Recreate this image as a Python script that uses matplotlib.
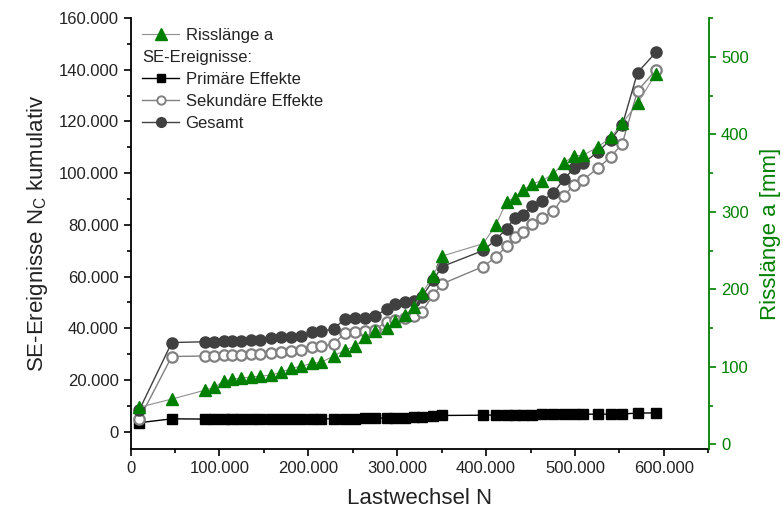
import numpy as np
import matplotlib
matplotlib.use('Agg')
import matplotlib.pyplot as plt
from matplotlib.ticker import FuncFormatter, MultipleLocator
from matplotlib.lines import Line2D
from matplotlib.transforms import IdentityTransform

plt.rcParams['font.family'] = ['Liberation Sans', 'DejaVu Sans']

# Lastwechsel N
lastwechsel = [10000, 46400, 83900, 94400, 105000, 114700, 124500, 135800, 145900, 158300,
               169200, 180800, 192100, 204200, 214600, 228500, 240900, 253000, 264200, 274700,
               288500, 298000, 309300, 318600, 328100, 340500, 350600, 396800, 410700, 423100,
               432100, 441900, 452100, 462900, 475700, 487700, 498900, 509100, 525600, 540300,
               553200, 570400, 591000]

# SE-Ereignisse kumulativ
primaer = [3500, 5000, 4900, 4900, 4900, 4900, 4900, 4900, 4900, 4900,
           4900, 5000, 5000, 5000, 5000, 5000, 5100, 5100, 5200, 5300,
           5300, 5400, 5500, 5600, 5700, 6200, 6300, 6400, 6500, 6600,
           6600, 6600, 6600, 6700, 6700, 6700, 6700, 6800, 6800, 6800,
           6900, 7200, 7300]
sekundaer = [5000, 29100, 29300, 29400, 29500, 29500, 29700, 29900, 30100, 30600,
             30900, 31400, 31700, 32600, 33000, 34000, 38100, 38600, 38900, 39500,
             42600, 43200, 44000, 44800, 46500, 52900, 57200, 63900, 67500, 71700,
             75500, 77100, 80500, 82700, 85200, 91300, 95400, 97400, 101900, 106300,
             111400, 131800, 139900]
gesamt = [8500, 34500, 34800, 34900, 35000, 35000, 35200, 35400, 35600, 36200,
          36600, 36800, 37000, 38400, 38900, 39700, 43600, 43800, 44100, 44600,
          47600, 49500, 50000, 50700, 52300, 58700, 63900, 70100, 74200, 78600,
          82600, 83900, 87300, 89300, 92300, 97700, 101900, 103800, 108200, 113000,
          118500, 138900, 146700]

# Risslänge a [mm]
risslaenge = [48, 58.5, 70, 73.5, 82, 84, 85.5, 87, 88, 89.5,
              93, 98, 101, 104.5, 106, 114, 121.5, 127, 138, 146,
              150, 159.5, 167, 177.5, 195.5, 217, 243, 259, 282.5, 313,
              318.5, 328, 336.5, 340, 349, 363.5, 372, 373, 383.5, 396,
              414, 440, 478]

green = '#008000'

fig = plt.figure(figsize=(7.83, 5.15), dpi=100)
ax = fig.add_axes([0.1667, 0.128, 0.739, 0.837])
ax2 = ax.twinx()

ax.plot(lastwechsel, primaer, color='black', lw=1.0, marker='s', ms=7.5,
        mfc='black', mec='black')
ax.plot(lastwechsel, sekundaer, color='#808080', lw=1.0, marker='o', ms=7.5,
        mfc='white', mec='#808080', mew=1.6)
ax.plot(lastwechsel, gesamt, color='#404040', lw=1.0, marker='o', ms=8,
        mfc='#404040', mec='#404040')
ax2.plot(lastwechsel, risslaenge, color='#909090', lw=0.8, marker='^', ms=9,
         mfc=green, mec=green)

thousands = FuncFormatter(lambda v, p: f"{int(round(v)):,}".replace(",", "."))

ax.set_xlim(0, 651000)
ax.set_ylim(-6700, 160000)
ax2.set_ylim(-6, 550)

ax.xaxis.set_major_locator(MultipleLocator(100000))
ax.xaxis.set_minor_locator(MultipleLocator(50000))
ax.xaxis.set_major_formatter(thousands)
ax.yaxis.set_major_locator(MultipleLocator(20000))
ax.yaxis.set_minor_locator(MultipleLocator(10000))
ax.yaxis.set_major_formatter(thousands)
ax2.yaxis.set_major_locator(MultipleLocator(100))
ax2.yaxis.set_minor_locator(MultipleLocator(50))

for a in (ax, ax2):
    a.spines['top'].set_visible(False)
ax.spines['right'].set_visible(False)
ax2.spines['left'].set_visible(False)
ax2.spines['bottom'].set_visible(False)
ax2.spines['right'].set_color(green)
for s in ('left', 'bottom'):
    ax.spines[s].set_linewidth(1.3)
ax2.spines['right'].set_linewidth(1.3)

ax.tick_params(which='major', direction='out', length=5, width=1.2, labelsize=12,
               colors='black', labelcolor='#222222')
ax.tick_params(which='minor', direction='out', length=3, width=1.2)
ax2.tick_params(which='major', direction='out', length=5, width=1.2, labelsize=12,
                colors=green)
ax2.tick_params(which='minor', direction='out', length=3, width=1.2, colors=green)

ax.set_xlabel('Lastwechsel N', fontsize=16, color='#222222', labelpad=9)
ax.set_ylabel('SE-Ereignisse N$_\\mathregular{C}$ kumulativ', fontsize=16,
              color='#222222', labelpad=6)
ax2.set_ylabel('Risslänge a [mm]', fontsize=16, color=green, labelpad=8)

h_riss = Line2D([], [], color='#909090', lw=0.8, marker='^', ms=9, mfc=green, mec=green)
h_blank = Line2D([], [], color='none')
h_prim = Line2D([], [], color='black', lw=1.0, marker='s', ms=6, mfc='black', mec='black')
h_sek = Line2D([], [], color='#808080', lw=1.0, marker='o', ms=6, mfc='white',
               mec='#808080', mew=1.4)
h_ges = Line2D([], [], color='#404040', lw=1.0, marker='o', ms=7, mfc='#404040',
               mec='#404040')
hl, htp, fs = 2.2, 0.4, 12
leg = ax2.legend([h_riss, h_blank, h_prim, h_sek, h_ges],
                 ['Risslänge a', 'SE-Ereignisse:', 'Primäre Effekte',
                  'Sekundäre Effekte', 'Gesamt'],
                 loc='upper left', bbox_to_anchor=(0.0, 1.005), frameon=False,
                 fontsize=fs, handlelength=hl, handletextpad=htp, labelspacing=0.42,
                 borderaxespad=0.3, labelcolor='#222222')

# header row: shift the label to where the handles start
fig.canvas.draw()
hdr = leg.get_texts()[1]
bb = hdr.get_window_extent()
hdr.set_visible(False)
shift = (hl + htp) * fs * fig.dpi / 72.0
fig.text(bb.x0 - shift, bb.y0, 'SE-Ereignisse:', transform=IdentityTransform(),
         fontsize=fs, color='#222222', va='bottom', ha='left')

fig.savefig('out.png', dpi=100)
